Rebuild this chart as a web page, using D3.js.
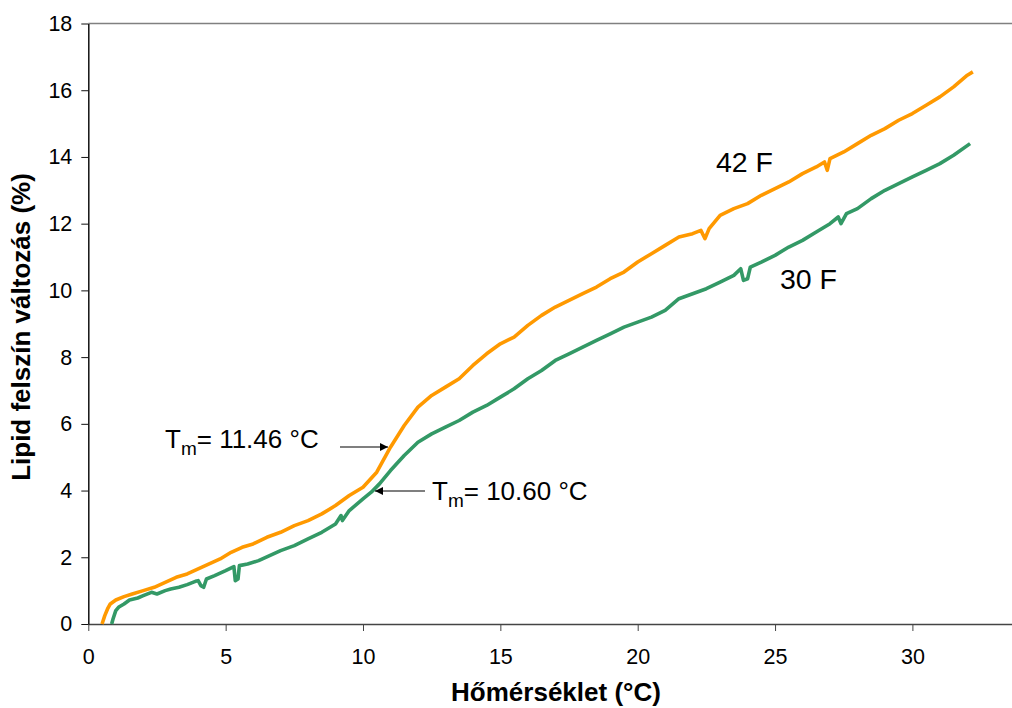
<!DOCTYPE html>
<html>
<head>
<meta charset="utf-8">
<script src="https://cdn.jsdelivr.net/npm/d3@7"></script>
<style>
  body { margin: 0; background: #fff; }
  svg { display: block; font-family: "Liberation Sans", Arial, sans-serif; }
</style>
</head>
<body>
<svg id="chart" width="1012" height="708"></svg>
<script>
// 42 F series (temperature °C, change %)
const temp42 = [0.5, 0.6, 0.7, 0.8, 1.0, 1.3, 1.6, 2.0, 2.4, 2.8, 3.2, 3.6, 4.0, 4.4, 4.8, 5.2, 5.6, 6.0, 6.5, 7.0,
  7.5, 8.0, 8.5, 9.0, 9.5, 10.0, 10.5, 11.0, 11.5, 12.0, 12.5, 13.0, 13.5, 14.0, 14.5, 15.0, 15.5, 16.0, 16.5, 17.0,
  17.5, 18.0, 18.5, 19.0, 19.5, 20.0, 20.5, 21.0, 21.5, 22.0, 22.3, 22.45, 22.6, 23.0, 23.5, 24.0, 24.5, 25.0, 25.5, 26.0,
  26.5, 26.8, 26.9, 27.0, 27.5, 28.0, 28.5, 29.0, 29.5, 30.0, 30.5, 31.0, 31.5, 32.0, 32.2];
const val42 = [0, 0.25, 0.45, 0.6, 0.72, 0.82, 0.9, 1.0, 1.1, 1.25, 1.4, 1.5, 1.65, 1.8, 1.95, 2.15, 2.3, 2.4, 2.6, 2.75,
  2.95, 3.1, 3.3, 3.55, 3.85, 4.1, 4.55, 5.3, 5.95, 6.5, 6.85, 7.1, 7.35, 7.75, 8.1, 8.4, 8.6, 8.95, 9.25, 9.5,
  9.7, 9.9, 10.1, 10.35, 10.55, 10.85, 11.1, 11.35, 11.6, 11.7, 11.8, 11.55, 11.85, 12.25, 12.45, 12.6, 12.85, 13.05, 13.25, 13.5,
  13.7, 13.85, 13.6, 13.95, 14.15, 14.4, 14.65, 14.85, 15.1, 15.3, 15.55, 15.8, 16.1, 16.45, 16.55];

// 30 F series
const temp30 = [0.85, 0.9, 1.0, 1.1, 1.3, 1.5, 1.8, 2.0, 2.3, 2.5, 2.8, 3.0, 3.3, 3.6, 3.9, 4.0, 4.1, 4.2, 4.3, 4.6,
  5.0, 5.3, 5.35, 5.45, 5.5, 5.8, 6.2, 6.6, 7.0, 7.5, 8.0, 8.5, 9.0, 9.2, 9.25, 9.5, 10.0, 10.3, 10.6, 11.0,
  11.5, 12.0, 12.5, 13.0, 13.5, 14.0, 14.5, 15.0, 15.5, 16.0, 16.5, 17.0, 17.5, 18.0, 18.5, 19.0, 19.5, 20.0, 20.5, 21.0,
  21.5, 22.0, 22.5, 23.0, 23.5, 23.75, 23.85, 24.0, 24.1, 24.5, 25.0, 25.5, 26.0, 26.5, 27.0, 27.3, 27.4, 27.6, 28.0, 28.5,
  29.0, 29.5, 30.0, 30.5, 31.0, 31.5, 32.1];
const val30 = [0, 0.15, 0.4, 0.5, 0.6, 0.72, 0.78, 0.85, 0.95, 0.9, 1.0, 1.05, 1.1, 1.18, 1.28, 1.3, 1.15, 1.1, 1.35, 1.45,
  1.6, 1.72, 1.3, 1.35, 1.75, 1.8, 1.9, 2.05, 2.2, 2.35, 2.55, 2.75, 3.0, 3.25, 3.1, 3.4, 3.75, 3.95, 4.2, 4.6,
  5.05, 5.45, 5.7, 5.9, 6.1, 6.35, 6.55, 6.8, 7.05, 7.35, 7.6, 7.9, 8.1, 8.3, 8.5, 8.7, 8.9, 9.05, 9.2, 9.4,
  9.75, 9.9, 10.05, 10.25, 10.45, 10.65, 10.3, 10.35, 10.7, 10.85, 11.05, 11.3, 11.5, 11.75, 12.0, 12.2, 12.0, 12.3, 12.45, 12.75,
  13.0, 13.2, 13.4, 13.6, 13.8, 14.05, 14.4];

const xTicks = [0, 5, 10, 15, 20, 25, 30];
const yTicks = [0, 2, 4, 6, 8, 10, 12, 14, 16, 18];

const svg = d3.select('#chart');
const fontFam = '"Liberation Sans", Arial, sans-serif';

// Plot area (right side runs past the picture edge)
const plotLeft = 88.3, plotTop = 23.5, plotBottom = 624;
const x = d3.scaleLinear().domain([0, 35]).range([plotLeft, plotLeft + 35 * 27.47]);
const y = d3.scaleLinear().domain([0, 18]).range([plotBottom, plotTop]);

// Top border of plot area
svg.append('line')
    .attr('x1', plotLeft).attr('x2', 1012)
    .attr('y1', plotTop).attr('y2', plotTop)
    .attr('stroke', '#808080').attr('stroke-width', 1.5);

// X axis
const xAxis = svg.append('g')
    .attr('transform', `translate(0,${plotBottom})`)
    .call(d3.axisBottom(x).tickValues(xTicks).tickSize(7).tickSizeOuter(0).tickPadding(18));
xAxis.select('.domain').attr('stroke', '#444').attr('stroke-width', 1.5);
xAxis.selectAll('.tick line').attr('stroke', '#444');
xAxis.selectAll('text').attr('font-size', '21.5px').attr('fill', '#000')
    .style('font-family', fontFam);

// Y axis
const yAxis = svg.append('g')
    .attr('transform', `translate(${plotLeft},0)`)
    .call(d3.axisLeft(y).tickValues(yTicks).tickSize(7).tickSizeOuter(0).tickPadding(9));
yAxis.select('.domain').attr('stroke', '#111').attr('stroke-width', 1.5);
yAxis.selectAll('.tick line').attr('stroke', '#111');
yAxis.selectAll('text').attr('font-size', '21.5px').attr('fill', '#000')
    .style('font-family', fontFam);

// Axis titles
svg.append('text')
    .attr('x', 556).attr('y', 701)
    .attr('text-anchor', 'middle')
    .attr('font-size', '26px').attr('font-weight', 'bold')
    .text('Hőmérséklet (°C)');

svg.append('text')
    .attr('transform', 'translate(30,327) rotate(-90)')
    .attr('text-anchor', 'middle')
    .attr('font-size', '26px').attr('font-weight', 'bold')
    .text('Lipid felszín változás (%)');

// Lines
const line = d3.line().x(d => x(d[0])).y(d => y(d[1]));
const series = [
    { xs: temp30, ys: val30, color: '#339966' },
    { xs: temp42, ys: val42, color: '#FF9900' }
];
series.forEach(s => {
    svg.append('path')
        .datum(s.xs.map((t, i) => [t, s.ys[i]]))
        .attr('fill', 'none')
        .attr('stroke', s.color)
        .attr('stroke-width', 3.6)
        .attr('stroke-linejoin', 'round')
        .attr('d', line);
});

// Series labels
svg.append('text').attr('x', 716).attr('y', 172).attr('font-size', '28.5px').text('42 F');
svg.append('text').attr('x', 780).attr('y', 289).attr('font-size', '28.5px').text('30 F');

// Arrow marker
svg.append('defs').append('marker')
    .attr('id', 'arrow')
    .attr('viewBox', '0 0 10 10')
    .attr('refX', 10).attr('refY', 5)
    .attr('markerWidth', 11).attr('markerHeight', 8)
    .attr('markerUnits', 'userSpaceOnUse')
    .attr('orient', 'auto')
    .append('path').attr('d', 'M0,0 L10,5 L0,10 Z').attr('fill', '#000');

// Tm annotations
function tmLabel(px, py, value) {
    const t = svg.append('text').attr('x', px).attr('y', py).attr('font-size', '26px');
    t.append('tspan').text('T');
    t.append('tspan').attr('font-size', '19px').attr('dy', 7).text('m');
    t.append('tspan').attr('dy', -7).text('= ' + value + ' °C');
}
tmLabel(165, 448, '11.46');
tmLabel(432, 500, '10.60');

svg.append('line')
    .attr('x1', 340).attr('y1', 447).attr('x2', 388).attr('y2', 447)
    .attr('stroke', '#000').attr('stroke-width', 1.2).attr('marker-end', 'url(#arrow)');
svg.append('line')
    .attr('x1', 425).attr('y1', 491).attr('x2', 375).attr('y2', 491)
    .attr('stroke', '#000').attr('stroke-width', 1.2).attr('marker-end', 'url(#arrow)');
</script>
</body>
</html>
